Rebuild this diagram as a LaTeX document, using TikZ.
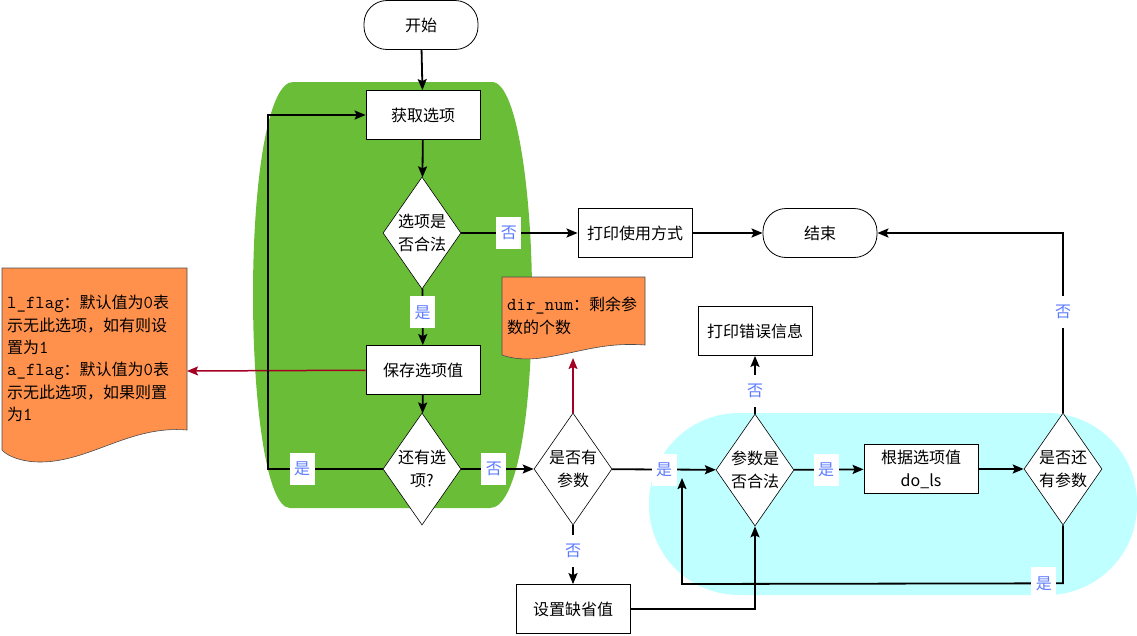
\documentclass[tikz,border=0pt]{standalone}
\usepackage{fontspec}
\setmainfont{Noto Sans CJK SC}
\usetikzlibrary{shapes.geometric,arrows.meta}
\definecolor{grn}{HTML}{6ABD37}
\definecolor{cyn}{HTML}{C0FFFF}
\definecolor{org}{HTML}{FF914D}
\definecolor{redl}{HTML}{A50021}
\definecolor{lblue}{HTML}{5B7BFF}
\tikzset{
  box/.style={draw=black, line width=0.8pt, fill=white, minimum width=114pt, minimum height=49pt, inner sep=0pt, align=center, font=\fontsize{16}{23}\selectfont},
  term/.style={box, rounded corners=23pt},
  dia/.style={diamond, aspect=0.7, draw=black, line width=0.6pt, fill=white, minimum width=78pt, minimum height=112pt, inner sep=0pt, align=center, font=\fontsize{16}{23}\selectfont},
  lbl/.style={fill=white, text=lblue, inner sep=0pt, minimum width=25pt, minimum height=32pt, font=\fontsize{16}{16}\selectfont},
  arr/.style={line width=1.8pt, -{Stealth[length=11pt,width=9pt,inset=2pt]}},
  redarr/.style={draw=redl, line width=1.5pt, -{Stealth[length=11pt,width=9pt,inset=2pt]}},
  notebg/.style={fill=org, draw=black!70, line width=0.6pt},
  notetxt/.style={anchor=north west, align=left, inner sep=0pt, font=\fontsize{16}{22.4}\selectfont}
}
\newcommand{\mt}[1]{{\ttfamily\fontsize{18.3}{22.4}\selectfont\addfontfeatures{FakeBold=1.5}#1}}
\begin{document}
\begin{tikzpicture}[x=1pt,y=-1pt]
\useasboundingbox (0,0) rectangle (1137,635);
% background groups
\fill[grn] (293,82) -- (492,82) .. controls (518,82) and (532,200) .. (532,295)
  .. controls (532,420) and (516,508) .. (490,508) -- (290,508)
  .. controls (266,508) and (253,400) .. (253,295)
  .. controls (253,180) and (268,82) .. (293,82) -- cycle;
\fill[cyn, rounded corners=90pt] (649,413) rectangle (1137,595);
% notes
\path[notebg] (2,268) -- (187,268) -- (187,430) .. controls (130,425) and (90,462) .. (40,462)
  .. controls (20,462) and (6,455) .. (2,450) -- cycle;
\node[notetxt] (lnotetext) at (7,295) {\mt{l\_flag}：默认值为\mt{0}表\\示无此选项，如有则设\\置为\mt{1}\\\mt{a\_flag}：默认值为\mt{0}表\\示无此选项，如果则置\\为\mt{1}};
\coordinate (lnote) at (187,371);
\path[notebg] (502,277) -- (645,277) -- (645,345) .. controls (605,342) and (580,352) .. (548,357)
  .. controls (525,361) and (510,358) .. (502,355) -- cycle;
\node[notetxt] (dnotetext) at (507,297) {\mt{dir\_num}：剩余参\\数的个数};
\coordinate (dnote) at (573,358);
% nodes
\node[term] (start) at (421,25) {开始};
\node[box] (get) at (423,115) {获取选项};
\node[dia] (dopt) at (422,233) {选项是\\否合法};
\node[box] (usage) at (635,233) {打印使用方式};
\node[term] (end) at (820,233) {结束};
\node[box] (save) at (423,370) {保存选项值};
\node[dia] (dmore) at (422,469) {还有选\\项?};
\node[dia] (darg) at (573,469) {是否有\\参数};
\node[box] (setdef) at (573,609) {设置缺省值};
\node[box] (perr) at (755,331) {打印错误信息};
\node[dia] (dvalid) at (755,470) {参数是\\否合法};
\node[box] (dols) at (921,469) {根据选项值\\do\_ls};
\node[dia] (drest) at (1063,469) {是否还\\有参数};
\coordinate (loopend) at (682,478);
% connectors
\draw[arr] (start) -- (get);
\draw[arr] (get) -- (dopt);
\draw[arr] (dopt) -- node[lbl,pos=0.42]{是} (save);
\draw[arr] (dopt) -- node[lbl,pos=0.41]{否} (usage);
\draw[arr] (usage) -- (end);
\draw[arr] (save) -- (dmore);
\draw[redarr] (save) -- (lnote);
\draw[arr] (dmore.west) -- node[lbl,pos=0.7]{是} ++(-115,0) |- (get.west);
\draw[arr] (dmore) -- node[lbl,pos=0.45]{否} (darg);
\draw[redarr] (darg) -- (dnote);
\draw[arr] (darg) -- node[lbl,pos=0.43]{否} (setdef);
\draw[arr] (darg) -- node[lbl,pos=0.5]{是} (dvalid);
\draw[arr] (setdef.east) -| (dvalid.south);
\draw[arr] (dvalid) -- node[lbl,pos=0.4]{否} (perr);
\draw[arr] (dvalid) -- node[lbl,pos=0.46]{是} (dols);
\draw[arr] (dols) -- (drest);
\draw[arr] (drest.north) -- node[lbl,pos=0.56]{否} (drest.north |- end.east) -- (end.east);
\draw[arr] (drest.south) -- ++(0,58) -- node[lbl,pos=0.05]{是} (loopend |- 0,584) -- (loopend);
\end{tikzpicture}
\end{document}
